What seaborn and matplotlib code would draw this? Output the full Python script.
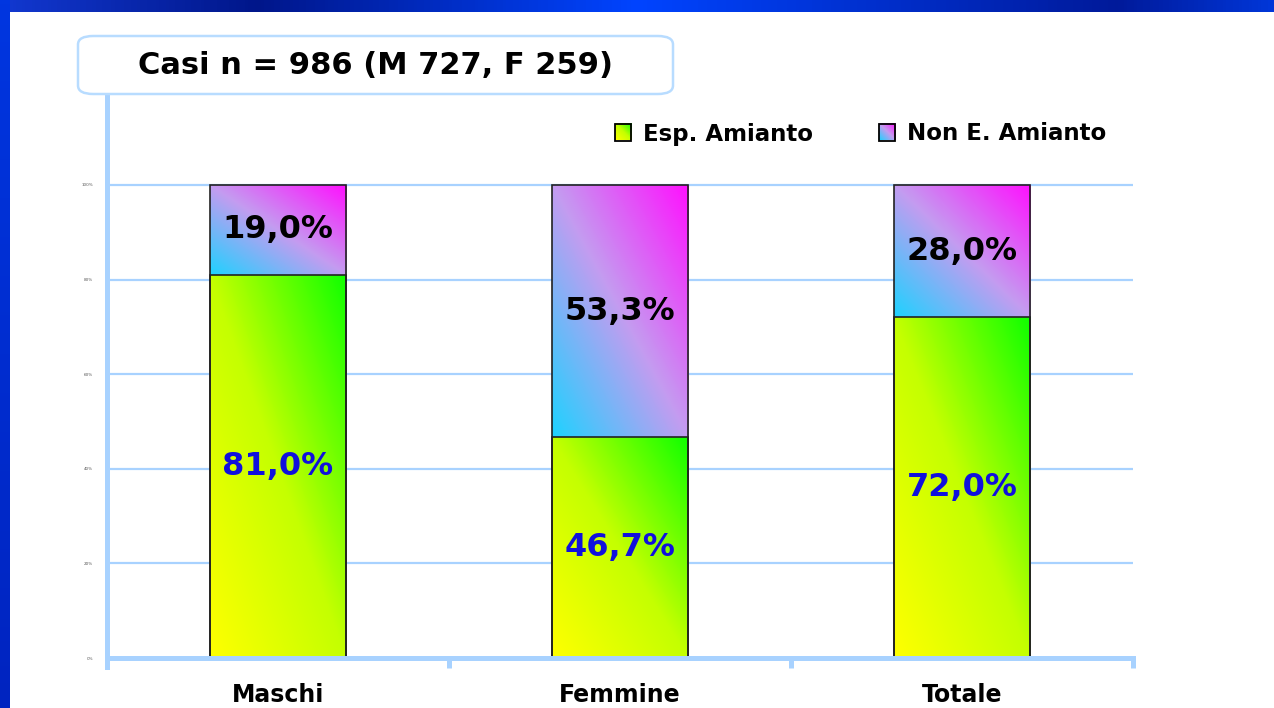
"""
Stacked percentage bars: asbestos exposure among cases.
"""
import numpy as np
import pandas as pd
import seaborn as sns
import matplotlib
matplotlib.use('Agg')
from matplotlib import pyplot as plt
from matplotlib.colors import LinearSegmentedColormap
from matplotlib.patches import FancyBboxPatch, Rectangle
from matplotlib.image import BboxImage
from matplotlib.transforms import Bbox, TransformedBbox
from matplotlib.legend_handler import HandlerBase

categorie = ['Maschi', 'Femmine', 'Totale']
esposti = [81.0, 46.7, 72.0]
non_esposti = [19.0, 53.3, 28.0]
serie = ['Esp. Amianto', 'Non E. Amianto']
yticks = [0, 20, 40, 60, 80, 100, 120]
titolo = 'Casi n = 986 (M 727, F 259)'

LIGHT = '#a8d2ff'
GREEN_GRAD = ['#ffff00', '#c4ff00', '#10ff00']
PINK_GRAD = ['#1ed2ff', '#c49cf0', '#ff10ff']

sns.set_style('white')
plt.rcParams['font.family'] = ['DejaVu Sans']
plt.rcParams['text.color'] = 'black'
plt.rcParams['xtick.color'] = 'black'


def grad_array(stops, n=120):
    # diagonal gradient, first stop bottom-left -> last stop top-right
    cmap = LinearSegmentedColormap.from_list('g', stops)
    u, v = np.meshgrid(np.linspace(0, 1, n), np.linspace(0, 1, n))
    return cmap((u + v) / 2)[..., :3]


class GradHandler(HandlerBase):
    def __init__(self, stops):
        super().__init__()
        self.stops = stops

    def create_artists(self, legend, orig_handle, xdescent, ydescent,
                       width, height, fontsize, trans):
        s = height * 1.0
        x0 = -xdescent + width - s
        y0 = -ydescent + (height - s) / 2
        img = BboxImage(TransformedBbox(Bbox.from_bounds(x0, y0, s, s), trans),
                        interpolation='bilinear', origin='lower')
        img.set_data(grad_array(self.stops, 40))
        rect = Rectangle((x0, y0), s, s, fc='none', ec='black', lw=1.3, transform=trans)
        return [img, rect]


df = pd.DataFrame({'categoria': categorie, 'esp': esposti, 'non': non_esposti})
df['totale'] = df['esp'] + df['non']

fig = plt.figure(figsize=(12.74, 7.08), dpi=100)
fig.patch.set_facecolor('white')

# blue frame top and left
top = fig.add_axes([0, 1 - 12 / 708, 1, 12 / 708])
frame_cmap = LinearSegmentedColormap.from_list(
    'frame', [(0, '#1238d0'), (0.2, '#00168a'), (0.5, '#0044ff'),
              (0.88, '#001a9a'), (1, '#0036d8')])
top.imshow(np.linspace(0, 1, 400)[None, :], cmap=frame_cmap, aspect='auto')
top.axis('off')
left = fig.add_axes([0, 0, 10 / 1274, 1])
left.imshow(np.linspace(0, 1, 200)[:, None], aspect='auto',
            cmap=LinearSegmentedColormap.from_list('l', ['#0036e0', '#0024c0']))
left.axis('off')

ax = fig.add_axes([107 / 1274, 1 - 658 / 708, 1026 / 1274, (658 - 90.4) / 708])

sns.barplot(data=df, x='categoria', y='totale', color=PINK_GRAD[0], width=0.4,
            edgecolor='#222222', linewidth=1.2, ax=ax, zorder=3)
sns.barplot(data=df, x='categoria', y='esp', color=GREEN_GRAD[0], width=0.4,
            edgecolor='#222222', linewidth=1.2, ax=ax, zorder=3)

n = len(categorie)
for i, p in enumerate(ax.patches):
    x0, y0 = p.get_x(), p.get_y()
    w, h = p.get_width(), p.get_height()
    if i < n:
        # upper segment: the part of the total bar above the green one
        y0 = df['esp'].iloc[i]
        h = df['non'].iloc[i]
        cols = PINK_GRAD
    else:
        cols = GREEN_GRAD
    clip = Rectangle((x0, y0), w, h, transform=ax.transData)
    im = ax.imshow(grad_array(cols), extent=(x0, x0 + w, y0, y0 + h),
                   origin='lower', aspect='auto', interpolation='bilinear', zorder=3.2)
    im.set_clip_path(clip)
    p.set_facecolor('none')
    p.set_zorder(3.5)

for i in range(n):
    e, ne = df['esp'].iloc[i], df['non'].iloc[i]
    ax.text(i, e / 2, f'{e:.1f}%'.replace('.', ','), ha='center', va='center',
            fontsize=23, fontweight='bold', color='#1010dd', zorder=5)
    ax.text(i, e + ne / 2, f'{ne:.1f}%'.replace('.', ','), ha='center', va='center',
            fontsize=23, fontweight='bold', color='black', zorder=5)

ax.set_xlim(-0.5, n - 0.5)
ax.set_ylim(0, 120)
ax.set_yticks(yticks)
ax.set_yticklabels([f'{t}%' for t in yticks], fontsize=3, color='#555555')
ax.yaxis.grid(True, color=LIGHT, lw=1.6, zorder=0)
ax.get_ygridlines()[-1].set_visible(False)
ax.set_axisbelow(True)
ax.set_xlabel('')
ax.set_ylabel('')
ax.set_xticks(range(n))
ax.set_xticklabels(categorie, fontsize=17, fontweight='bold', color='black')
ax.tick_params(axis='x', length=0, pad=18)
ax.tick_params(axis='y', length=0, pad=10)
ax.set_xticks(np.arange(-0.5, n, 1), minor=True)
ax.tick_params(axis='x', which='minor', bottom=True, length=7, width=3.6,
               color=LIGHT, direction='out')
for side in ['top', 'right']:
    ax.spines[side].set_visible(False)
for side in ['left', 'bottom']:
    ax.spines[side].set_color(LIGHT)
    ax.spines[side].set_linewidth(3.6)
    ax.spines[side].set_zorder(6)
ax.spines['left'].set_bounds(-1.8, 120)
ax.set_facecolor('white')

# title box
box = FancyBboxPatch((78 / 1274, 1 - 94 / 708), 595 / 1274, 58 / 708,
                     boxstyle='round,pad=0,rounding_size=0.012',
                     transform=fig.transFigure, fc='white', ec='#b8dcff', lw=1.8)
fig.patches.append(box)
fig.text(375 / 1274, 1 - 66 / 708, titolo, ha='center', va='center',
         fontsize=22, fontweight='bold', color='black')

handles = [Rectangle((0, 0), 1, 1), Rectangle((0, 1), 1, 1)]
fig.legend(handles, serie, loc='center', bbox_to_anchor=(857 / 1274, 1 - 134 / 708),
           ncol=2, frameon=False, handlelength=1.0, handletextpad=0.5,
           columnspacing=2.6, labelcolor='black',
           handler_map={handles[0]: GradHandler(GREEN_GRAD),
                        handles[1]: GradHandler(PINK_GRAD)},
           prop={'weight': 'bold', 'size': 16.5})

fig.savefig('out.png', dpi=100)
